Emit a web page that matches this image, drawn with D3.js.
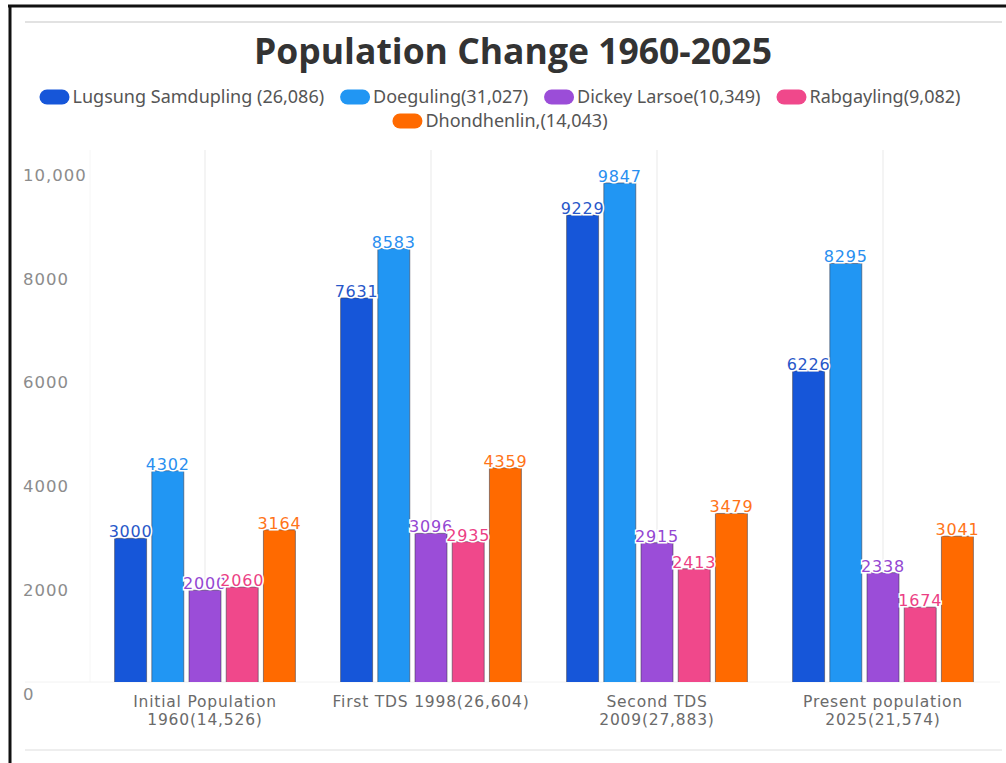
<!DOCTYPE html>
<html>
<head>
<meta charset="utf-8">
<script src="https://cdn.jsdelivr.net/npm/d3@7/dist/d3.min.js"></script>
<style>
  body { margin: 0; background: #fff; }
  svg { display: block; }
</style>
</head>
<body>
<svg id="chart"></svg>
<script>
// Data
const categories = [
  ["Initial Population", "1960(14,526)"],
  ["First TDS 1998(26,604)"],
  ["Second TDS", "2009(27,883)"],
  ["Present population", "2025(21,574)"]
];
const seriesNames = [
  "Lugsung Samdupling (26,086)",
  "Doeguling(31,027)",
  "Dickey Larsoe(10,349)",
  "Rabgayling(9,082)",
  "Dhondhenlin,(14,043)"
];
const lugsung = [3000, 7631, 9229, 6226];
const doeguling = [4302, 8583, 9847, 8295];
const dickey = [2000, 3096, 2915, 2338];
const rabgayling = [2060, 2935, 2413, 1674];
const dhondhenlin = [3164, 4359, 3479, 3041];
const yTicks = [0, 2000, 4000, 6000, 8000, 10000];
const yTickLabels = ["0", "2000", "4000", "6000", "8000", "10,000"];
const colours = ["#1656d9", "#2196f3", "#9b4dd8", "#f0488b", "#ff6a00"];
const labelColours = ["#2857c9", "#2a8ff0", "#9447d2", "#ec3f85", "#ff7418"];

const seriesValues = [lugsung, doeguling, dickey, rabgayling, dhondhenlin];
const catKeys = categories.map(c => c.join(" "));
const rows = [];
catKeys.forEach((c, i) => {
  seriesNames.forEach((s, j) => {
    rows.push({ cat: c, series: s, idx: j, value: seriesValues[j][i] });
  });
});

const width = 1006, height = 763;
const svg = d3.select("#chart").attr("width", width).attr("height", height);

// frame lines
svg.append("line").attr("x1", 8).attr("x2", width).attr("y1", 6).attr("y2", 6)
  .attr("stroke", "#111").attr("stroke-width", 3);
svg.append("line").attr("x1", 10).attr("x2", 10).attr("y1", 5).attr("y2", height)
  .attr("stroke", "#111").attr("stroke-width", 3);
svg.append("line").attr("x1", 25).attr("x2", 1002).attr("y1", 22).attr("y2", 22)
  .attr("stroke", "#e2e2e2").attr("stroke-width", 2);
svg.append("line").attr("x1", 25).attr("x2", 1002).attr("y1", 750).attr("y2", 750)
  .attr("stroke", "#eeeeee").attr("stroke-width", 2);

// title
svg.append("text")
  .attr("x", 513).attr("y", 64)
  .attr("text-anchor", "middle")
  .style("font-family", "'Open Sans', sans-serif")
  .style("font-weight", 700)
  .style("font-size", "35.5px")
  .attr("fill", "#333")
  .text("Population Change 1960-2025");

// legend (flow layout, centred rows)
const legend = svg.append("g").attr("class", "legend");
const items = legend.selectAll("g.item").data(seriesNames).join("g").attr("class", "item");
items.append("rect")
  .attr("width", 30).attr("height", 15).attr("rx", 7.5).attr("y", -7.5)
  .attr("fill", (d, i) => colours[i]);
items.append("text")
  .attr("x", 33).attr("dy", "0.35em")
  .style("font-family", "'Noto Sans', sans-serif")
  .style("font-size", "18px")
  .attr("fill", "#555")
  .text(d => d);

const maxRow = 960, gap = 16;
let legendRows = [[]], rowW = 0;
items.each(function () {
  const w = this.getBBox().width;
  if (rowW + w > maxRow && legendRows[legendRows.length - 1].length) {
    legendRows.push([]);
    rowW = 0;
  }
  legendRows[legendRows.length - 1].push({ node: this, w });
  rowW += w + gap;
});
legendRows.forEach((r, ri) => {
  const total = d3.sum(r, d => d.w) + gap * (r.length - 1);
  let x = 500 - total / 2;
  r.forEach(d => {
    d3.select(d.node).attr("transform", `translate(${x},${97 + ri * 24})`);
    x += d.w + gap;
  });
});

// scales
const yScale = d3.scaleLinear().domain([0, 10000]).range([694, 175]);
const x0 = d3.scaleBand().domain(catKeys).range([92, 996]).paddingInner(0.2).paddingOuter(0.1);
const x1 = d3.scaleBand().domain(seriesNames).range([0, x0.bandwidth()]).paddingInner(0.14);

const baseY = 682;

// vertical grid lines at category centres
svg.append("g").selectAll("line").data(catKeys).join("line")
  .attr("x1", d => x0(d) + x0.bandwidth() / 2)
  .attr("x2", d => x0(d) + x0.bandwidth() / 2)
  .attr("y1", 150).attr("y2", baseY)
  .attr("stroke", "#f0f0f0").attr("stroke-width", 1.5);
svg.append("line").attr("x1", 90).attr("x2", 90).attr("y1", 150).attr("y2", baseY)
  .attr("stroke", "#f6f6f6");
svg.append("line").attr("x1", 25).attr("x2", 1000).attr("y1", baseY).attr("y2", baseY)
  .attr("stroke", "#f2f2f2");

// y axis labels
const yAxis = d3.axisLeft(yScale).tickValues(yTicks)
  .tickFormat((d, i) => yTickLabels[i]).tickSize(0).tickPadding(0);
const yAxisG = svg.append("g").attr("transform", "translate(23,0)").call(yAxis);
yAxisG.select(".domain").remove();
yAxisG.selectAll("text")
  .attr("text-anchor", "start")
  .style("font-family", "'DejaVu Sans', sans-serif")
  .style("font-size", "16.5px")
  .style("letter-spacing", "1px")
  .attr("fill", "#8c8c8c");

// bars
svg.append("clipPath").attr("id", "plot-clip")
  .append("rect").attr("x", 0).attr("y", 0).attr("width", width).attr("height", baseY);

svg.append("g").attr("clip-path", "url(#plot-clip)")
  .selectAll("rect.bar").data(rows).join("rect")
  .attr("class", "bar")
  .attr("x", d => x0(d.cat) + x1(d.series))
  .attr("width", x1.bandwidth())
  .attr("y", d => yScale(d.value))
  .attr("height", d => yScale(0) - yScale(d.value))
  .attr("fill", d => colours[d.idx])
  .attr("stroke", "#3a3a4a").attr("stroke-opacity", 0.55).attr("stroke-width", 1);

// value labels
svg.append("g").selectAll("text").data(rows).join("text")
  .attr("x", d => x0(d.cat) + x1(d.series) + x1.bandwidth() / 2)
  .attr("y", d => yScale(d.value) - 1)
  .attr("text-anchor", "middle")
  .style("font-family", "'DejaVu Sans', sans-serif")
  .style("font-size", "16px")
  .style("letter-spacing", "0.8px")
  .attr("fill", d => labelColours[d.idx])
  .attr("stroke", "#fff").attr("stroke-width", 3).attr("paint-order", "stroke")
  .text(d => d.value);

// category labels
const catG = svg.append("g").selectAll("text").data(categories).join("text")
  .attr("x", (d, i) => x0(catKeys[i]) + x0.bandwidth() / 2)
  .attr("y", 707)
  .attr("text-anchor", "middle")
  .style("font-family", "'DejaVu Sans', sans-serif")
  .style("font-size", "15.5px")
  .style("letter-spacing", "0.8px")
  .attr("fill", "#6a6a6a");
catG.selectAll("tspan").data(d => d).join("tspan")
  .attr("x", function () { return d3.select(this.parentNode).attr("x"); })
  .attr("dy", (d, i) => i === 0 ? 0 : 18)
  .text(d => d);
</script>
</body>
</html>
